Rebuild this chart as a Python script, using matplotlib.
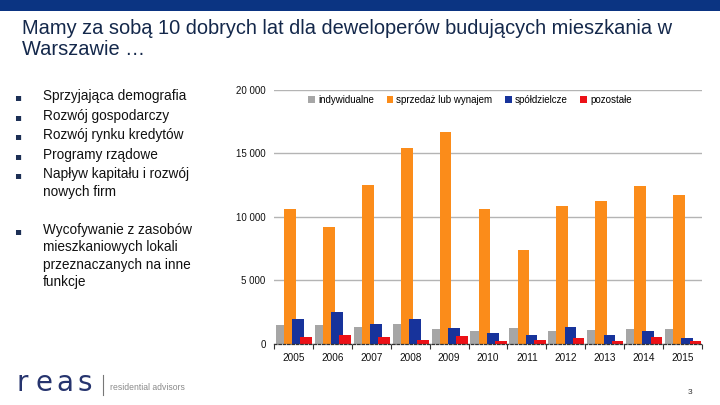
import matplotlib
matplotlib.use("Agg")
import matplotlib.pyplot as plt
import numpy as np
from matplotlib.patches import Rectangle

plt.rcParams['font.family'] = ['Liberation Sans', 'DejaVu Sans']

years = ['2005', '2006', '2007', '2008', '2009', '2010', '2011', '2012', '2013', '2014', '2015']
indywidualne = [1460, 1460, 1300, 1540, 1140, 990, 1220, 990, 1070, 1150, 1150]
sprzedaz = [10600, 9200, 12500, 15400, 16700, 10600, 7400, 10850, 11250, 12450, 11700]
spoldzielcze = [1930, 2490, 1540, 1930, 1220, 830, 670, 1300, 670, 990, 430]
pozostale = [510, 670, 510, 280, 590, 200, 280, 430, 200, 510, 200]
series_names = ['indywidualne', 'sprzedaż lub wynajem', 'spółdzielcze', 'pozostałe']
colors = ['#a6a6a6', '#fb8c1a', '#17339b', '#ec1117']
yticks = [0, 5000, 10000, 15000, 20000]
ytick_labels = ['0', '5 000', '10 000', '15 000', '20 000']

bullets1 = ['Sprzyjająca demografia', 'Rozwój gospodarczy', 'Rozwój rynku kredytów',
            'Programy rządowe', 'Napływ kapitału i rozwój\nnowych firm']
bullets2 = ['Wycofywanie z zasobów\nmieszkaniowych lokali\nprzeznaczanych na inne\nfunkcje']
title = 'Mamy za sobą 10 dobrych lat dla deweloperów budujących mieszkania w\nWarszawie …'

fig = plt.figure(figsize=(7.2, 4.05), dpi=100)
W, H = 720, 405

# top band
fig.patches.append(Rectangle((0, 1 - 11 / H), 1, 11 / H, transform=fig.transFigure,
                             facecolor='#0b3482', edgecolor='none'))
fig.text(22 / W, 1 - 19 / H, title, ha='left', va='top', fontsize=14.4,
         color='#14284b', linespacing=1.15)


def bullets(items, y_first, step):
    y = y_first
    for it in items:
        fig.text(18 / W, 1 - y / H, '▪', ha='center', va='center', fontsize=7.5,
                 color='#1c2f55', family=['DejaVu Sans'])
        fig.text(43 / W, 1 - (y - 8) / H, it, ha='left', va='top', fontsize=9.8,
                 color='#111111', linespacing=1.3)
        y += step * (it.count('\n') + 1)


bullets(bullets1, 97, 19.6)
bullets(bullets2, 231, 19.6)

# chart
ax = fig.add_axes([274 / W, (H - 343.5) / H, 428 / W, 253.5 / H])
x = np.arange(len(years))
width = 0.30
offsets = [-0.30, -0.09, 0.12, 0.33]
data = [indywidualne, sprzedaz, spoldzielcze, pozostale]
for vals, off, c, name in zip(data, offsets, colors, series_names):
    ax.bar(x + off, vals, width=width, color=c, label=name, zorder=3)

ax.set_xlim(-0.5, len(years) - 0.5)
ax.set_ylim(0, 20000)
ax.set_yticks(yticks)
ax.set_yticklabels(ytick_labels, fontsize=7, color='#111111')
ax.set_xticks(x)
ax.set_xticklabels(years, fontsize=7.2, color='#111111')
ax.tick_params(axis='x', length=0, pad=6.5)
ax.tick_params(axis='y', length=0, pad=6)
ax.grid(axis='y', color='#b4b4b4', linewidth=1.0, zorder=0)
for s in ['top', 'right', 'left']:
    ax.spines[s].set_visible(False)
ax.spines['bottom'].set_linestyle((0, (2, 1.5)))
ax.spines['bottom'].set_color('#333333')
ax.spines['bottom'].set_linewidth(0.9)
ax.spines['bottom'].set_zorder(4)
ax.set_xticks(np.arange(len(years) + 1) - 0.5, minor=True)
ax.tick_params(axis='x', which='minor', length=3.5, width=0.8, color='#333333', direction='out')
ax.set_facecolor('none')

ax.legend(loc='upper center', bbox_to_anchor=(0.458, 0.995), ncol=4, frameon=False,
          fontsize=7, handlelength=0.7, handleheight=0.7, handletextpad=0.3,
          columnspacing=1.3, borderaxespad=0)

# footer logo (wide letters)
for ch, cx in zip('reas', [22, 44, 65, 85]):
    fig.text(cx / W, 1 - 391 / H, ch, ha='center', va='baseline', fontsize=20,
             color='#26346e', family=['DejaVu Sans'])
fig.add_artist(plt.Line2D([103 / W, 103 / W], [1 - 375 / H, 1 - 395 / H], color='#777777',
                          linewidth=0.8, transform=fig.transFigure))
fig.text(110 / W, 1 - 388 / H, 'residential advisors', ha='left', va='center', fontsize=6.2,
         color='#8a8a8a')
fig.text(690 / W, 1 - 393 / H, '3', ha='center', va='center', fontsize=6, color='#333333')

fig.savefig('out.png', dpi=100)
